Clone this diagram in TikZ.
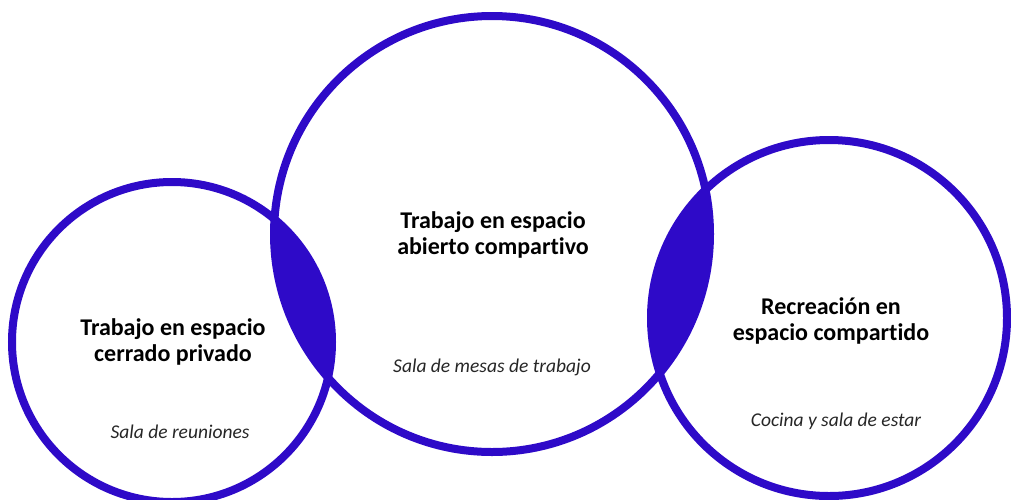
\documentclass[tikz,border=0pt]{standalone}
\usepackage{fontspec}
\setmainfont{Carlito}[RawFeature={-liga}]
\definecolor{ringblue}{RGB}{46,10,200}
\tikzset{
  ring/.style={draw=ringblue, line width=8pt},
  lens/.style={fill=ringblue},
  title/.style={font=\bfseries\fontsize{24}{26}\selectfont, text=black, align=center, inner sep=0pt},
  sub/.style={font=\itshape\fontsize{19.5}{22}\selectfont, text=black!85, inner sep=0pt},
}
\begin{document}
\begin{tikzpicture}[x=1pt,y=-1pt]
\useasboundingbox (0,0) rectangle (1011,499);
\coordinate (cL) at (172,342);
\coordinate (cM) at (492,234);
\coordinate (cR) at (829,318);
% lenses
\begin{scope}
  \clip (cL) circle (160);
  \fill[lens] (cM) circle (218);
\end{scope}
\begin{scope}
  \clip (cR) circle (178);
  \fill[lens] (cM) circle (218);
\end{scope}
% rings
\draw[ring] (cL) circle (160);
\draw[ring] (cM) circle (218);
\draw[ring] (cR) circle (178);
% texts
\node[title] (tL) at (173,342) {Trabajo en espacio\\cerrado privado};
\node[sub] (sL) at (180,432) {Sala de reuniones};
\node[title] (tM) at (493,235) {Trabajo en espacio\\abierto compartivo};
\node[sub] (sM) at (492,367) {Sala de mesas de trabajo};
\node[title] (tR) at (831,321) {Recreación en\\espacio compartido};
\node[sub] (sR) at (836,421) {Cocina y sala de estar};
\end{tikzpicture}
\end{document}
